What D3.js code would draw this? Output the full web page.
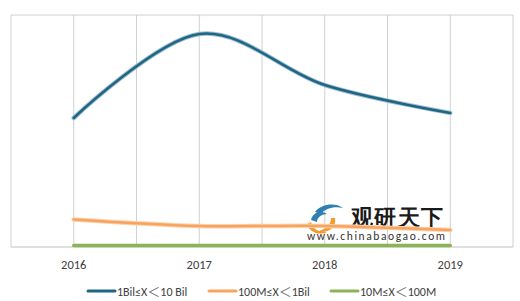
<!DOCTYPE html>
<html>
<head>
<meta charset="utf-8">
<script src="https://cdn.jsdelivr.net/npm/d3@7"></script>
<style>
  body { margin: 0; background: #fff; }
  text { font-family: Calibri, Carlito, "Liberation Sans", "Noto Sans", sans-serif; }
</style>
</head>
<body>
<div id="chart"></div>
<script>
const years = ['2016', '2017', '2018', '2019'];
const seriesNames = ['1Bil≤X＜10 Bil', '100M≤X＜1Bil', '10M≤X＜100M'];
const bigValues = [55.6, 91.8, 69.8, 57.8];
const midValues = [11.9, 9.1, 9.1, 7.3];
const smallValues = [0.6, 0.6, 0.6, 0.6];
const colors = ['#1f6585', '#f8a35e', '#8cb356'];

const w = 520, h = 301;
const plotLeft = 11, plotRight = 513, plotTop = 15, plotBottom = 247;

const svg = d3.select('#chart').append('svg')
  .attr('width', w).attr('height', h);

const x = d3.scaleBand().domain(years).range([plotLeft, plotRight]);
const y = d3.scaleLinear().domain([0, 100]).range([plotBottom, plotTop]);
const cx = d => x(d) + x.bandwidth() / 2;

// gridlines at band edges and centres
const gridX = [];
years.forEach(d => { gridX.push(x(d)); gridX.push(cx(d)); });
gridX.push(plotRight);
svg.selectAll('.grid').data(gridX).join('line')
  .attr('class', 'grid')
  .attr('x1', d => d).attr('x2', d => d)
  .attr('y1', plotTop).attr('y2', plotBottom)
  .attr('stroke', '#d0d0d0').attr('stroke-width', 1);
svg.append('line')
  .attr('x1', plotLeft).attr('x2', plotRight).attr('y1', plotTop).attr('y2', plotTop)
  .attr('stroke', '#d0d0d0');
svg.append('line')
  .attr('x1', plotLeft).attr('x2', plotRight).attr('y1', plotBottom).attr('y2', plotBottom)
  .attr('stroke', '#bfbfbf').attr('stroke-width', 1.2);

// x labels
const xAxis = svg.append('g')
  .attr('transform', `translate(0,${plotBottom})`)
  .call(d3.axisBottom(x).tickSize(0).tickPadding(13));
xAxis.select('.domain').remove();
xAxis.selectAll('text').attr('font-size', 12.5).attr('fill', '#404040')
  .attr('font-family', 'Calibri, Carlito, "Liberation Sans", sans-serif');

// watermark
const wm = svg.append('g').attr('transform', 'translate(305,202)');
wm.append('path').attr('d', 'M10,10 C16,2 30,0 38,6 C30,4 20,6 16,12 Z').attr('fill', '#2f7fb0');
wm.append('path').attr('d', 'M6,18 C8,10 16,8 22,12 C16,12 12,16 12,20 Z').attr('fill', '#2f7fb0');
wm.append('path').attr('d', 'M30,16 C32,26 22,32 10,30 C20,28 26,24 26,16 Z').attr('fill', '#f29a2e');
wm.append('path').attr('d', 'M2,22 C4,30 14,34 22,30 C14,30 8,28 6,20 Z').attr('fill', '#f29a2e');
wm.append('text').attr('x', 46).attr('y', 23)
  .attr('font-size', 22).attr('font-weight', 'bold')
  .attr('font-family', '"Noto Sans CJK SC", sans-serif')
  .attr('fill', '#1a1a1a').attr('textLength', 92).text('观研天下');
wm.append('text').attr('x', 2).attr('y', 38)
  .attr('font-size', 11.5).attr('fill', '#333')
  .attr('font-family', '"DejaVu Sans", sans-serif')
  .attr('textLength', 138).text('www.chinabaogao.com');

// lines
const series = [bigValues, midValues, smallValues];
const line = d3.line()
  .x((d, i) => cx(years[i]))
  .y(d => y(d))
  .curve(d3.curveCatmullRom.alpha(0));

series.forEach((vals, k) => {
  if (k === 0) {
    svg.append('path').attr('d', line(vals)).attr('fill', 'none')
      .attr('stroke', '#9fbfd0').attr('stroke-width', 4.5).attr('stroke-linecap', 'round');
  } else if (k === 1) {
    svg.append('path').attr('d', line(vals)).attr('fill', 'none')
      .attr('stroke', '#fbd2ae').attr('stroke-width', 4.5).attr('stroke-linecap', 'round');
  }
  svg.append('path').attr('d', line(vals)).attr('fill', 'none')
    .attr('stroke', colors[k]).attr('stroke-width', k === 2 ? 3.5 : 2.5)
    .attr('stroke-linecap', 'round');
});

// legend
const legendX = [88, 209, 331];
const lg = svg.selectAll('.lg').data(seriesNames).join('g')
  .attr('class', 'lg')
  .attr('transform', (d, i) => `translate(${legendX[i]},291)`);
lg.append('line').attr('x1', 0).attr('x2', 27).attr('y1', 0).attr('y2', 0)
  .attr('stroke', (d, i) => colors[i]).attr('stroke-width', 3).attr('stroke-linecap', 'round');
const lt = lg.append('text').attr('x', 29).attr('y', 4.5)
  .attr('font-size', 12).attr('fill', '#404040');
lt.each(function (d) {
  const parts = d.split('＜');
  const t = d3.select(this);
  t.append('tspan').text(parts[0]);
  t.append('tspan').attr('font-family', '"Noto Sans CJK SC", sans-serif')
    .attr('font-size', 13).attr('fill', '#707070').text('＜');
  t.append('tspan').text(parts[1]);
});
</script>
</body>
</html>
